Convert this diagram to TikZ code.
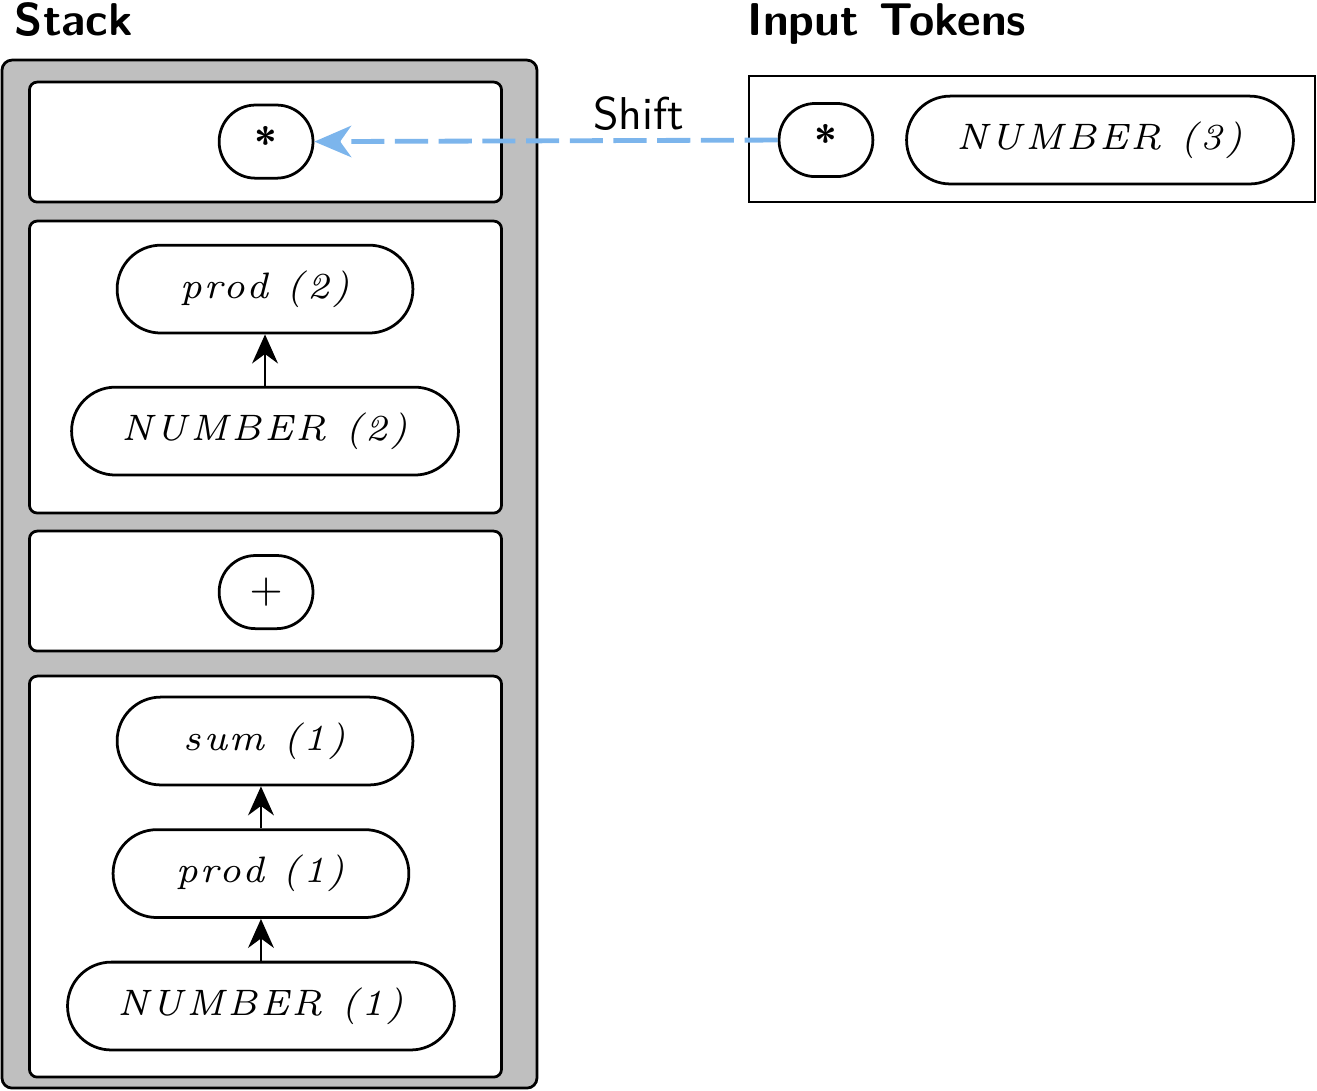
\documentclass[tikz,border=0pt]{standalone}
\usepackage{fontspec}
\usepackage{xcolor}
\usepackage{tikz}
\usetikzlibrary{arrows.meta}
\newfontfamily\tokfont[LetterSpace=7]{lmroman7-italic.otf}
\definecolor{shiftblue}{RGB}{124,181,236}

\begin{document}
\begin{tikzpicture}[
  tok/.style={draw, semithick, rounded corners=9.5pt, minimum width=64.3pt, minimum height=19.1pt, inner sep=0pt, font=\fontsize{8}{9}\tokfont},
  longtok/.style={tok, minimum width=84.1pt},
  optok/.style={draw, semithick, rounded corners=7.9pt, minimum width=20.4pt, minimum height=15.9pt, inner sep=0pt},
  slot/.style={draw, semithick, fill=white, rounded corners=1.7pt},
  title/.style={anchor=base west, inner sep=0pt, font=\sffamily\bfseries},
  up/.style={semithick, -{Stealth[length=6.3pt,width=5.6pt]}},
  shiftarrow/.style={shiftblue, line width=1.05pt, dash pattern=on 7.2pt off 2.3pt, -{Stealth[length=8pt,width=6.8pt,inset=2.4pt]}}
]
\useasboundingbox (0,0) rectangle (10.063,8.329);
\filldraw[black!25, draw=black, semithick, rounded corners=2.2pt] (0.015,0.015) rectangle (4.103,7.870);
\filldraw[slot] (0.225,6.785) rectangle (3.832,7.702);
\filldraw[slot] (0.225,4.409) rectangle (3.832,6.640);
\filldraw[slot] (0.225,3.354) rectangle (3.832,4.271);
\filldraw[slot] (0.225,0.099) rectangle (3.832,3.163);
\draw[semithick] (5.723,6.785) rectangle (10.048,7.748);

\node[title] (stacktitle) at (0.107,8.054) {Stack};
\node[title] (inputtitle) at (5.708,8.054) {Input\hspace{0.8pt} Tokens};

\node[optok, font=\sffamily\bfseries\small] (starS) at (2.033,7.247) {*};
\node[tok] (prodB) at (2.025,6.120) {prod (2)};
\node[longtok] (numB) at (2.025,5.035) {NUMBER (2)};
\node[optok, font=\small] (plus) at (2.033,3.805) {$+$};
\node[tok] (sumA) at (2.025,2.667) {sum (1)};
\node[tok] (prodA) at (1.994,1.654) {prod (1)};
\node[longtok] (numA) at (1.994,0.642) {NUMBER (1)};

\node[optok, font=\sffamily\bfseries\small] (starT) at (6.311,7.259) {*};
\node[longtok] (numC) at (8.405,7.259) {NUMBER (3)};

\draw[up] (numB) -- (prodB);
\draw[up] (prodA.north) -- (prodA.north |- sumA.south);
\draw[up] (numA) -- (prodA);

\draw[shiftarrow] (starT.west) -- (starS.east) node[pos=0.3, above=-1.7pt, text=black, font=\sffamily] (shiftlabel) {Shift};
\end{tikzpicture}
\end{document}
